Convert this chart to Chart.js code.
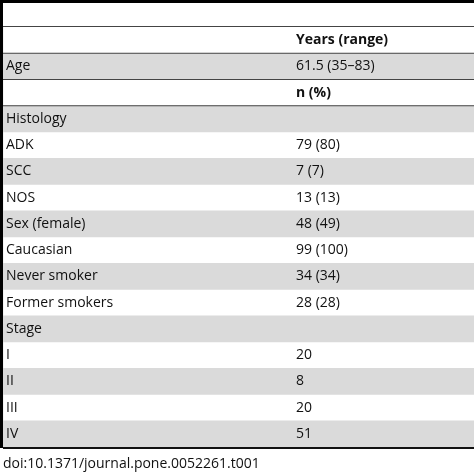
<!DOCTYPE html>
<html>
<head>
<meta charset="utf-8">
<script src="https://cdn.jsdelivr.net/npm/chart.js@4"></script>
<style>body{margin:0;background:#fff}</style>
</head>
<body>
<canvas id="c" width="474" height="476"></canvas>
<script>
const rowLabels = ["", "Age", "", "Histology", "ADK", "SCC", "NOS", "Sex (female)", "Caucasian", "Never smoker", "Former smokers", "Stage", "I", "II", "III", "IV"];
const rowValues = ["Years (range)", "61.5 (35\u201383)", "n (%)", "", "79 (80)", "7 (7)", "13 (13)", "48 (49)", "99 (100)", "34 (34)", "28 (28)", "", "20", "8", "20", "51"];
const boldRows = [0, 2];
const shaded = [0, 1, 0, 1, 0, 1, 0, 1, 0, 1, 0, 1, 0, 1, 0, 1];
const footnote = "doi:10.1371/journal.pone.0052261.t001";

const font = "14px 'Open Sans'";
const boldFont = "bold 14px 'Open Sans'";

// Text, rules and frame drawn on top of the row bands
const tablePlugin = {
  id: "table",
  afterDraw(chart) {
    const { ctx, chartArea: a } = chart;
    const y = chart.scales.y;
    const half = (y.getPixelForValue(1) - y.getPixelForValue(0)) / 2;
    ctx.save();
    // top black bar and left border
    ctx.fillStyle = "#000";
    ctx.fillRect(0, 0, 474, 3);
    ctx.fillRect(0, 0, 3, 448);
    // thin rules
    ctx.strokeStyle = "#444";
    ctx.lineWidth = 1;
    const rule = (py) => { ctx.beginPath(); ctx.moveTo(a.left, py); ctx.lineTo(a.right, py); ctx.stroke(); };
    rule(a.top - 0.5);
    [0, 1, 2].forEach(i => rule(y.getPixelForValue(i) + half));
    ctx.lineWidth = 2;
    ctx.strokeStyle = "#111";
    rule(a.bottom + 1);
    // cell text
    ctx.fillStyle = "#111";
    ctx.textBaseline = "middle";
    rowLabels.forEach((lab, i) => {
      const py = y.getPixelForValue(i);
      ctx.font = font;
      ctx.fillText(lab, 6, py);
      ctx.font = boldRows.includes(i) ? boldFont : font;
      ctx.fillText(rowValues[i], 296, py);
    });
    ctx.font = font;
    ctx.fillText(footnote, 3, 464);
    ctx.restore();
  }
};

new Chart(document.getElementById("c"), {
  type: "bar",
  data: {
    labels: rowLabels.map((l, i) => i),
    datasets: [{ data: shaded, backgroundColor: "#dadada", barPercentage: 1, categoryPercentage: 1 }]
  },
  options: {
    indexAxis: "y",
    responsive: false,
    animation: false,
    layout: { padding: { left: 3, right: 0, top: 27, bottom: 29 } },
    plugins: { legend: { display: false }, tooltip: { enabled: false } },
    scales: {
      x: { display: false, min: 0, max: 1 },
      y: { display: false }
    }
  },
  plugins: [tablePlugin]
});
</script>
</body>
</html>
